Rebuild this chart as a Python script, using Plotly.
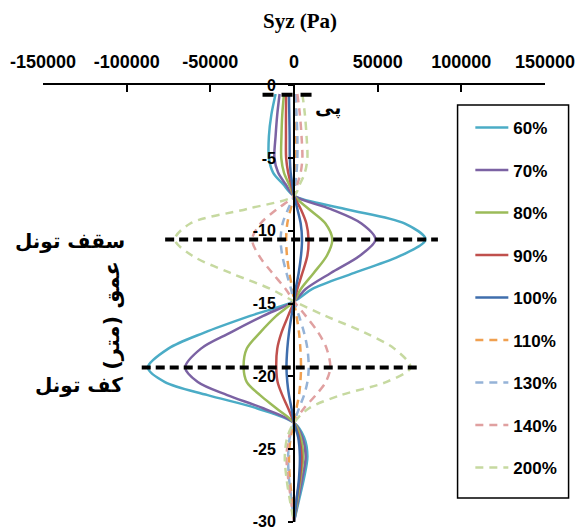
import plotly.graph_objects as go

# Depth below surface (m); plotted as negative values
depth = [0.6, 2, 3.5, 5, 6, 6.8, 7.6, 8.5, 9.5, 10.6, 11.7, 12.9, 14.0, 14.85,
         15.85, 17.0, 18.1, 19.4, 20.4, 21.3, 22.2, 23.2, 24.2, 25.5, 27, 28.5, 30]

# Shear stress Syz (Pa) for each stiffness ratio
s60 = [-11000, -13500, -15000, -15000, -12500, -6500, 0, 30500, 66000, 78600, 64000, 36000, 11000, 0,
       -26200, -53600, -75100, -87300, -77100, -51600, -22300, 0, 6000, 8000, 6000, 3000, 0]
s70 = [-8600, -10000, -11000, -11700, -9500, -5000, 0, 21700, 40300, 48700, 39500, 22000, 7000, 0,
       -18400, -38000, -55600, -65000, -57500, -39900, -18400, 0, 5000, 7000, 5000, 2500, 0]
s80 = [-6000, -7000, -7500, -7600, -6000, -3000, 0, 8800, 18800, 22900, 19700, 11800, 4100, 0,
       -10600, -20300, -28200, -30100, -28200, -20300, -10600, 0, 4000, 5500, 4000, 2000, 0]
s90 = [-4700, -4800, -4800, -4700, -3500, -1800, 0, 4000, 7400, 8700, 8000, 5000, 2000, 0,
       -3500, -7500, -10000, -10600, -9800, -7000, -3500, 0, 3000, 4500, 3500, 1500, 0]
s100 = [-3000, -2800, -2600, -2500, -2000, -1000, 0, 2000, 4000, 4800, 4200, 2800, 1000, 0,
        -1500, -3000, -4000, -4500, -4000, -3000, -1500, 0, 2500, 3500, 3000, 1500, 0]
s110 = [500, 1000, 1200, 1200, 1000, 500, 0, -2000, -4000, -4700, -4200, -2800, -1000, 0,
        1500, 3000, 3800, 4200, 3800, 3000, 1500, 0, -2000, -3000, -2500, -1200, 0]
s130 = [1000, 1500, 2000, 2000, 1500, 800, 0, -3500, -6800, -8000, -7000, -4500, -1800, 0,
        3000, 6000, 8000, 8800, 8000, 6000, 3000, 0, -2500, -3500, -3000, -1500, 0]
s140 = [2000, 3500, 4500, 5000, 4000, 2000, 0, -10000, -20000, -25000, -21000, -13000, -5000, 0,
        7000, 14500, 19500, 21700, 19000, 13000, 6000, 0, -3000, -4500, -3500, -1800, 0]
s200 = [5000, 6500, 7500, 8000, 6500, 3500, 0, -28000, -62000, -71200, -61000, -38000, -14000, 0,
        18800, 42300, 59900, 69600, 55000, 28000, 9000, 0, -4000, -5500, -4500, -2500, 0]

series_names = ["60%", "70%", "80%", "90%", "100%", "110%", "130%", "140%", "200%"]
series_values = [s60, s70, s80, s90, s100, s110, s130, s140, s200]

# Reference levels: foundation, tunnel crown, tunnel invert
foundation_depth = 0.65
foundation_span = [-18800, 10500]
crown_depth = 10.6
crown_span = [-77000, 86000]
invert_depth = 19.4
invert_span = [-91000, 75500]

x_ticks = [-150000, -100000, -50000, 0, 50000, 100000, 150000]
y_ticks = [0, -5, -10, -15, -20, -25, -30]

colors = ["#4BACC6", "#7B62A3", "#9BBB59", "#C0504D", "#3F6EAD",
          "#F0A050", "#95B3D7", "#E0A0A0", "#C6D9A0"]
dashed = [False] * 5 + [True] * 4

fig = go.Figure()
neg_depth = [-d for d in depth]
for i, (name, vals) in enumerate(zip(series_names, series_values)):
    fig.add_trace(go.Scatter(
        x=vals, y=neg_depth, mode="lines", name=name,
        legendgroup=name,
        line=dict(color=colors[i], width=2.5, shape="spline", smoothing=0.9,
                  dash="8px,6px" if dashed[i] else "solid"),
    ))

for d, span, pattern in [(foundation_depth, foundation_span, "11px,8px"),
                         (crown_depth, crown_span, "9px,5px"),
                         (invert_depth, invert_span, "9px,5px")]:
    fig.add_trace(go.Scatter(
        x=span, y=[-d, -d], mode="lines", showlegend=False, hoverinfo="skip",
        line=dict(color="black", width=4, dash=pattern),
    ))

L, R, T, B = 43, 30, 85, 9
W, H = 584, 531
pw, ph = W - L - R, H - T - B


def px(xp):
    return (xp - L) / pw


def py(yp):
    return 1 - (yp - T) / ph


arabic_font = dict(family="DejaVu Sans", size=20, color="black", weight="bold")
ytick_font = dict(family="Liberation Sans", size=16, color="black", weight="bold")


def label(text, x, y, xanchor="center", font=arabic_font, angle=0):
    return dict(text=text, x=px(x), y=py(y), xref="paper", yref="paper",
                xanchor=xanchor, yanchor="middle", textangle=angle,
                showarrow=False, font=font)


annotations = [
    label("<b>Syz (Pa)</b>", 305, 21,
          font=dict(family="Liberation Serif", size=21, color="black")),
    label("سقف تونل", 128, 241, xanchor="right"),
    label("کف تونل", 126, 385, xanchor="right"),
    label("پی", 333, 108, font=dict(family="DejaVu Sans", size=19, color="black",
                                     weight="bold")),
    label("عمق (متر)", 113, 315, angle=-90,
          font=dict(family="DejaVu Sans", size=21, color="black", weight="bold")),
]

fig.update_layout(
    width=W, height=H,
    margin=dict(l=L, r=R, t=T, b=B),
    paper_bgcolor="white", plot_bgcolor="white",
    showlegend=True,
    legend=dict(
        x=px(478), y=py(110), xanchor="left", yanchor="top",
        borderwidth=0, bgcolor="rgba(0,0,0,0)",
        font=dict(family="Liberation Sans", size=17, color="black", weight="bold"),
        tracegroupgap=17.4, itemwidth=33,
    ),
    shapes=[dict(type="rect", xref="paper", yref="paper",
                 x0=px(465), x1=px(578), y0=py(105), y1=py(498),
                 line=dict(color="black", width=1.5), fillcolor="rgba(0,0,0,0)")],
    xaxis=dict(
        range=[-150000, 150000], side="top",
        tickvals=x_ticks, ticktext=[str(v) for v in x_ticks],
        ticks="inside", ticklen=7, tickwidth=1.5, tickcolor="black",
        showline=True, linecolor="black", linewidth=1.5,
        showgrid=False, zeroline=False,
        tickfont=dict(family="Liberation Sans", size=18, color="black", weight="bold"),
        ticklabelstandoff=8, ticklabeloverflow="allow",
    ),
    yaxis=dict(
        range=[-30.02, 0.02], anchor="free", position=0.5,
        tickvals=y_ticks, ticktext=[str(v) for v in y_ticks],
        ticks="outside", ticklen=5, tickwidth=1.5, tickcolor="black",
        showline=True, linecolor="black", linewidth=1.8,
        showgrid=False, zeroline=False,
        tickfont=ytick_font, ticklabelstandoff=9, ticklabeloverflow="allow",
        automargin=False,
    ),
    annotations=annotations,
)

fig.write_html("out.html")
